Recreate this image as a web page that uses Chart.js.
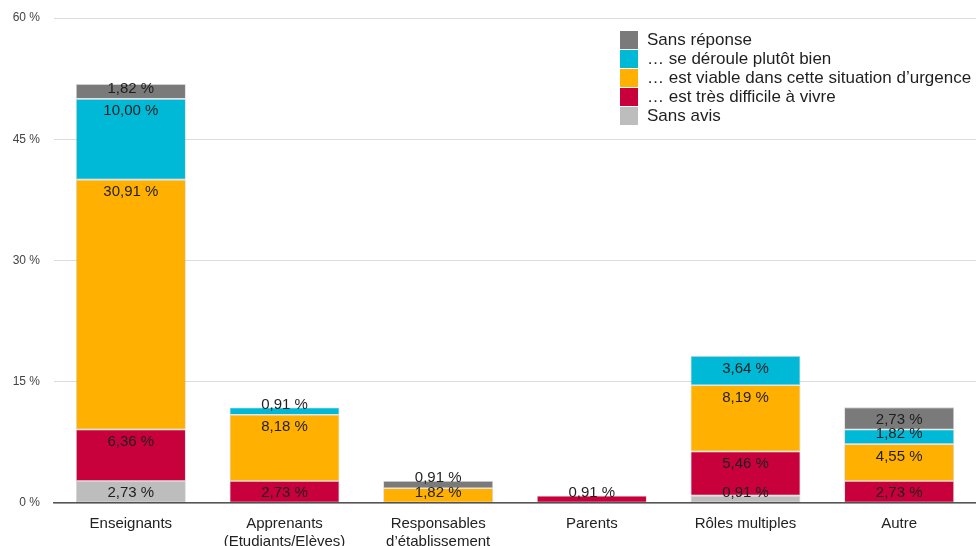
<!DOCTYPE html>
<html lang="fr">
<head>
<meta charset="utf-8">
<script src="https://cdn.jsdelivr.net/npm/chart.js@4.4.1/dist/chart.umd.min.js"></script>
<style>
  html, body { margin: 0; padding: 0; background: #fff; }
  canvas { display: block; }
</style>
</head>
<body>
<canvas id="roleChart" width="976" height="546"></canvas>
<script>
// categories and series (percent of respondents)
const categories = [
    'Enseignants',
    ['Apprenants', '(Etudiants/Elèves)'],
    ['Responsables', 'd’établissement'],
    'Parents',
    'Rôles multiples',
    'Autre'
];
const sansAvis      = [2.73, 0,    0,    0,    0.91, 0];
const tresDifficile = [6.36, 2.73, 0,    0.91, 5.46, 2.73];
const viable        = [30.91, 8.18, 1.82, 0,   8.19, 4.55];
const plutotBien    = [10.00, 0.91, 0,    0,   3.64, 1.82];
const sansReponse   = [1.82, 0,    0.91, 0,    0,    2.73];
const yTicks = [0, 15, 30, 45, 60];

const FONT = '"Liberation Sans", Arial, Helvetica, sans-serif';

function fmt(v) {
    return v.toFixed(2).replace('.', ',') + ' %';
}

// values written on each segment, near its top (or its bottom when thin)
const segmentLabels = {
    id: 'segmentLabels',
    afterDatasetsDraw(chart) {
        const ctx = chart.ctx;
        ctx.save();
        ctx.font = '15px ' + FONT;
        ctx.fillStyle = '#1f1f1f';
        ctx.textAlign = 'center';
        ctx.textBaseline = 'middle';
        chart.data.datasets.forEach((ds, i) => {
            const meta = chart.getDatasetMeta(i);
            meta.data.forEach((bar, j) => {
                const v = ds.data[j];
                if (!v) return;
                const top = Math.min(bar.y, bar.base);
                const bottom = Math.max(bar.y, bar.base);
                const y = Math.min(top + 12.5, bottom - 10);
                ctx.fillText(fmt(v), bar.x, y);
            });
        });
        ctx.restore();
    }
};

// square swatch legend, top series first
const boxLegend = {
    id: 'boxLegend',
    afterDraw(chart) {
        const ctx = chart.ctx;
        const x = 620, y0 = 31, box = 18, row = 19;
        ctx.save();
        ctx.font = '17px ' + FONT;
        ctx.textBaseline = 'middle';
        ctx.textAlign = 'left';
        const list = chart.data.datasets.slice().reverse();
        list.forEach((ds, k) => {
            const y = y0 + k * row;
            ctx.fillStyle = ds.backgroundColor;
            ctx.fillRect(x, y, box, box);
            ctx.fillStyle = '#1f1f1f';
            ctx.fillText(ds.label, x + 27, y + box / 2);
        });
        ctx.restore();
    }
};

function series(label, data, color) {
    return {
        label: label,
        data: data,
        backgroundColor: color,
        borderColor: 'rgba(0,0,0,0.18)',
        borderWidth: c => (c.raw ? 0.8 : 0),
        borderSkipped: false,
        barPercentage: 0.715,
        categoryPercentage: 1
    };
}

new Chart(document.getElementById('roleChart'), {
    type: 'bar',
    data: {
        labels: categories,
        datasets: [
            series('Sans avis', sansAvis, '#bdbdbd'),
            series('… est très difficile à vivre', tresDifficile, '#c8003c'),
            series('… est viable dans cette situation d’urgence', viable, '#ffb000'),
            series('… se déroule plutôt bien', plutotBien, '#00b9d6'),
            series('Sans réponse', sansReponse, '#7a7a7a')
        ]
    },
    options: {
        responsive: false,
        animation: false,
        devicePixelRatio: 1,
        layout: { padding: { top: 18, right: 0, left: 0, bottom: 0 } },
        plugins: {
            legend: { display: false },
            tooltip: { enabled: false }
        },
        scales: {
            x: {
                stacked: true,
                grid: { display: false },
                border: { color: '#555', width: 1.5 },
                ticks: {
                    color: '#222',
                    font: { family: FONT, size: 15, lineHeight: 1.25 },
                    padding: 3,
                    maxRotation: 0
                },
                afterFit: s => { s.height = 43; }
            },
            y: {
                stacked: true,
                min: 0,
                max: 60,
                afterBuildTicks: s => { s.ticks = yTicks.map(v => ({ value: v })); },
                grid: { color: '#dcdcdc', drawTicks: false },
                border: { display: false },
                ticks: {
                    color: '#444',
                    font: { family: FONT, size: 12 },
                    padding: 14,
                    callback: v => v + ' %'
                },
                afterFit: s => {
                    s.width = 54;
                    s.paddingTop = 0;
                    s.paddingBottom = 0;
                }
            }
        }
    },
    plugins: [segmentLabels, boxLegend]
});
</script>
</body>
</html>
